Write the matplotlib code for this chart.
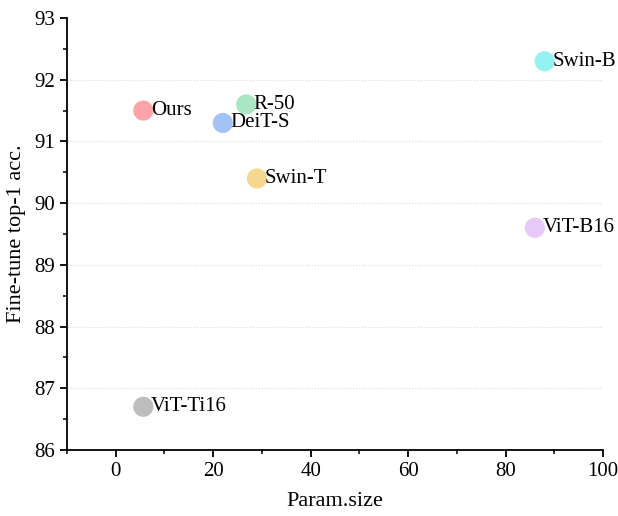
import matplotlib
matplotlib.use("Agg")
import matplotlib.pyplot as plt
from matplotlib.ticker import MultipleLocator

plt.rcParams['font.family'] = ['Liberation Serif', 'DejaVu Serif']

# data
models = ['Ours', 'R-50', 'DeiT-S', 'Swin-T', 'Swin-B', 'ViT-B16', 'ViT-Ti16']
params = [5.7, 26.8, 22, 29, 88, 86, 5.7]
acc = [91.5, 91.6, 91.3, 90.4, 92.3, 89.6, 86.7]
colors = ['#ffa3aa', '#a9e6c3', '#a3c3f7', '#f6d78f', '#93f2f2', '#e6c9f8', '#bdbdbd']

fig = plt.figure(figsize=(6.18, 5.16), dpi=100)
ax = fig.add_axes([0.108, 0.128, 0.868, 0.837])

for m, x, y, c in zip(models, params, acc, colors):
    ax.scatter(x, y, s=210, color=c, edgecolors='none', zorder=3)
    ax.annotate(m, (x, y), xytext=(5.5, 0), textcoords='offset points',
                va='center', ha='left', fontsize=15, zorder=4)

ax.set_xlim(-10, 100)
ax.set_ylim(86, 93)
ax.xaxis.set_major_locator(MultipleLocator(20))
ax.xaxis.set_minor_locator(MultipleLocator(10))
ax.yaxis.set_major_locator(MultipleLocator(1))
ax.yaxis.set_minor_locator(MultipleLocator(0.5))

for yv in range(87, 93):
    ax.axhline(yv, color='#d9d9d9', lw=0.8, ls=':', zorder=1)

for s in ['top', 'right']:
    ax.spines[s].set_visible(False)
for s in ['left', 'bottom']:
    ax.spines[s].set_linewidth(1.3)

ax.tick_params(which='major', direction='out', length=5, width=1.3, labelsize=15)
ax.tick_params(which='minor', direction='out', length=3, width=1.1)

ax.set_xlabel('Param.size', fontsize=16, labelpad=8)
ax.set_ylabel('Fine-tune top-1 acc.', fontsize=16, labelpad=6)

fig.savefig('out.png', dpi=100)
